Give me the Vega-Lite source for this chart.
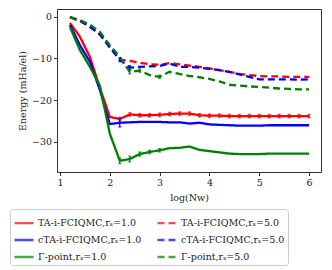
{
  "$schema": "https://vega.github.io/schema/vega-lite/v6.json",
  "autosize": "none",
  "width": 264,
  "height": 163,
  "padding": {"left": 57, "top": 9, "right": 11, "bottom": 98},
  "config": {
    "font": "DejaVu Serif",
    "view": {"stroke": "#333", "strokeWidth": 1},
    "axis": {"grid": false, "domain": false, "tickColor": "#333", "tickSize": 3.5, "labelFontSize": 9.5, "labelColor": "#222", "titleFontSize": 9.5, "titleFontWeight": "normal", "titleColor": "#222"}
  },
  "data": {"values": [
    {"x":1.2,"s":"TA1","y":-1.5,"e":0},{"x":1.4,"s":"TA1","y":-4.8,"e":0},{"x":1.6,"s":"TA1","y":-9.6,"e":0},{"x":1.8,"s":"TA1","y":-17,"e":0},{"x":2.0,"s":"TA1","y":-24,"e":0},{"x":2.2,"s":"TA1","y":-24.5,"e":0.4},{"x":2.4,"s":"TA1","y":-23.4,"e":0.4},{"x":2.6,"s":"TA1","y":-23.6,"e":0.4},{"x":2.8,"s":"TA1","y":-23.6,"e":0.4},{"x":3.0,"s":"TA1","y":-23.5,"e":0.4},{"x":3.2,"s":"TA1","y":-23.3,"e":0.4},{"x":3.4,"s":"TA1","y":-23.2,"e":0.4},{"x":3.6,"s":"TA1","y":-23.2,"e":0.4},{"x":3.8,"s":"TA1","y":-23.6,"e":0.4},{"x":4.0,"s":"TA1","y":-23.7,"e":0.4},{"x":4.2,"s":"TA1","y":-23.7,"e":0.4},{"x":4.4,"s":"TA1","y":-23.8,"e":0.4},{"x":4.6,"s":"TA1","y":-23.8,"e":0.4},{"x":4.8,"s":"TA1","y":-23.8,"e":0.4},{"x":5.0,"s":"TA1","y":-23.8,"e":0.4},{"x":5.2,"s":"TA1","y":-23.8,"e":0.4},{"x":5.4,"s":"TA1","y":-23.8,"e":0.4},{"x":5.6,"s":"TA1","y":-23.8,"e":0.4},{"x":5.8,"s":"TA1","y":-23.8,"e":0.4},{"x":6.0,"s":"TA1","y":-23.8,"e":0.4},
    {"x":1.2,"s":"TA5","y":-0.1,"e":0},{"x":1.4,"s":"TA5","y":-1,"e":0},{"x":1.6,"s":"TA5","y":-2.4,"e":0},{"x":1.8,"s":"TA5","y":-4.2,"e":0},{"x":2.0,"s":"TA5","y":-7.3,"e":0},{"x":2.2,"s":"TA5","y":-10.3,"e":0},{"x":2.4,"s":"TA5","y":-10.6,"e":0},{"x":2.6,"s":"TA5","y":-11,"e":0},{"x":2.8,"s":"TA5","y":-11.4,"e":0},{"x":3.0,"s":"TA5","y":-11.5,"e":0},{"x":3.2,"s":"TA5","y":-11.1,"e":0},{"x":3.4,"s":"TA5","y":-11.4,"e":0},{"x":3.6,"s":"TA5","y":-11.7,"e":0},{"x":3.8,"s":"TA5","y":-12,"e":0},{"x":4.0,"s":"TA5","y":-12.4,"e":0},{"x":4.2,"s":"TA5","y":-12.8,"e":0},{"x":4.4,"s":"TA5","y":-13.2,"e":0},{"x":4.6,"s":"TA5","y":-13.7,"e":0},{"x":4.8,"s":"TA5","y":-14,"e":0},{"x":5.0,"s":"TA5","y":-14.2,"e":0},{"x":5.2,"s":"TA5","y":-14.3,"e":0},{"x":5.4,"s":"TA5","y":-14.3,"e":0},{"x":5.6,"s":"TA5","y":-14.4,"e":0},{"x":5.8,"s":"TA5","y":-14.4,"e":0},{"x":6.0,"s":"TA5","y":-14.4,"e":0},
    {"x":1.2,"s":"cTA1","y":-2,"e":0},{"x":1.4,"s":"cTA1","y":-6.8,"e":0},{"x":1.6,"s":"cTA1","y":-10.8,"e":0},{"x":1.8,"s":"cTA1","y":-17.5,"e":0},{"x":2.0,"s":"cTA1","y":-25.7,"e":0},{"x":2.2,"s":"cTA1","y":-25.4,"e":1.0},{"x":2.4,"s":"cTA1","y":-25.3,"e":0},{"x":2.6,"s":"cTA1","y":-25.2,"e":0},{"x":2.8,"s":"cTA1","y":-25.2,"e":0},{"x":3.0,"s":"cTA1","y":-25.2,"e":0},{"x":3.2,"s":"cTA1","y":-25.3,"e":0},{"x":3.4,"s":"cTA1","y":-25.3,"e":0},{"x":3.6,"s":"cTA1","y":-25.6,"e":0},{"x":3.8,"s":"cTA1","y":-25.4,"e":0},{"x":4.0,"s":"cTA1","y":-25.8,"e":0},{"x":4.2,"s":"cTA1","y":-25.9,"e":0},{"x":4.4,"s":"cTA1","y":-26,"e":0},{"x":4.6,"s":"cTA1","y":-26.1,"e":0},{"x":4.8,"s":"cTA1","y":-26.1,"e":0},{"x":5.0,"s":"cTA1","y":-26.1,"e":0},{"x":5.2,"s":"cTA1","y":-26,"e":0},{"x":5.4,"s":"cTA1","y":-26,"e":0},{"x":5.6,"s":"cTA1","y":-26,"e":0},{"x":5.8,"s":"cTA1","y":-26,"e":0},{"x":6.0,"s":"cTA1","y":-26,"e":0},
    {"x":1.2,"s":"cTA5","y":-0.1,"e":0},{"x":1.4,"s":"cTA5","y":-1,"e":0},{"x":1.6,"s":"cTA5","y":-2.4,"e":0},{"x":1.8,"s":"cTA5","y":-4.2,"e":0},{"x":2.0,"s":"cTA5","y":-7.3,"e":0},{"x":2.2,"s":"cTA5","y":-10.3,"e":0.5},{"x":2.4,"s":"cTA5","y":-12.2,"e":0.5},{"x":2.6,"s":"cTA5","y":-12,"e":0},{"x":2.8,"s":"cTA5","y":-11.9,"e":0},{"x":3.0,"s":"cTA5","y":-11.8,"e":0},{"x":3.2,"s":"cTA5","y":-11.2,"e":0},{"x":3.4,"s":"cTA5","y":-12,"e":0},{"x":3.6,"s":"cTA5","y":-12,"e":0},{"x":3.8,"s":"cTA5","y":-12.2,"e":0},{"x":4.0,"s":"cTA5","y":-12.5,"e":0},{"x":4.2,"s":"cTA5","y":-12.8,"e":0},{"x":4.4,"s":"cTA5","y":-13.2,"e":0},{"x":4.6,"s":"cTA5","y":-13.8,"e":0},{"x":4.8,"s":"cTA5","y":-14.4,"e":0},{"x":5.0,"s":"cTA5","y":-15,"e":0},{"x":5.2,"s":"cTA5","y":-15,"e":0},{"x":5.4,"s":"cTA5","y":-15,"e":0},{"x":5.6,"s":"cTA5","y":-15,"e":0},{"x":5.8,"s":"cTA5","y":-15.1,"e":0},{"x":6.0,"s":"cTA5","y":-15,"e":0},
    {"x":1.2,"s":"G1","y":-2.5,"e":0},{"x":1.4,"s":"G1","y":-8,"e":0},{"x":1.6,"s":"G1","y":-12,"e":0},{"x":1.8,"s":"G1","y":-16.5,"e":0},{"x":2.0,"s":"G1","y":-28,"e":0},{"x":2.2,"s":"G1","y":-34.5,"e":0.7},{"x":2.4,"s":"G1","y":-34.1,"e":0.7},{"x":2.6,"s":"G1","y":-32.9,"e":0.5},{"x":2.8,"s":"G1","y":-32.4,"e":0.4},{"x":3.0,"s":"G1","y":-32,"e":0.4},{"x":3.2,"s":"G1","y":-31.5,"e":0},{"x":3.4,"s":"G1","y":-31.4,"e":0},{"x":3.6,"s":"G1","y":-31.1,"e":0},{"x":3.8,"s":"G1","y":-31.9,"e":0},{"x":4.0,"s":"G1","y":-32.2,"e":0},{"x":4.2,"s":"G1","y":-32.5,"e":0},{"x":4.4,"s":"G1","y":-32.8,"e":0},{"x":4.6,"s":"G1","y":-32.9,"e":0},{"x":4.8,"s":"G1","y":-32.9,"e":0},{"x":5.0,"s":"G1","y":-32.9,"e":0},{"x":5.2,"s":"G1","y":-32.8,"e":0},{"x":5.4,"s":"G1","y":-32.8,"e":0},{"x":5.6,"s":"G1","y":-32.8,"e":0},{"x":5.8,"s":"G1","y":-32.8,"e":0},{"x":6.0,"s":"G1","y":-32.8,"e":0},
    {"x":1.2,"s":"G5","y":-0.1,"e":0},{"x":1.4,"s":"G5","y":-0.8,"e":0},{"x":1.6,"s":"G5","y":-1.9,"e":0},{"x":1.8,"s":"G5","y":-3.6,"e":0},{"x":2.0,"s":"G5","y":-6.8,"e":0},{"x":2.2,"s":"G5","y":-9.6,"e":0},{"x":2.4,"s":"G5","y":-13.2,"e":0.5},{"x":2.6,"s":"G5","y":-12.9,"e":0.4},{"x":2.8,"s":"G5","y":-14,"e":0},{"x":3.0,"s":"G5","y":-14.4,"e":0.4},{"x":3.2,"s":"G5","y":-13.2,"e":0},{"x":3.4,"s":"G5","y":-13.7,"e":0},{"x":3.6,"s":"G5","y":-14.2,"e":0},{"x":3.8,"s":"G5","y":-14.5,"e":0},{"x":4.0,"s":"G5","y":-14.9,"e":0},{"x":4.2,"s":"G5","y":-15.5,"e":0},{"x":4.4,"s":"G5","y":-16.3,"e":0},{"x":4.6,"s":"G5","y":-16.5,"e":0},{"x":4.8,"s":"G5","y":-16.7,"e":0},{"x":5.0,"s":"G5","y":-16.8,"e":0},{"x":5.2,"s":"G5","y":-17,"e":0},{"x":5.4,"s":"G5","y":-17.2,"e":0},{"x":5.6,"s":"G5","y":-17.3,"e":0},{"x":5.8,"s":"G5","y":-17.4,"e":0},{"x":6.0,"s":"G5","y":-17.4,"e":0}
  ]},
  "encoding": {
    "x": {"field": "x", "type": "quantitative", "scale": {"domain": [0.94, 6.24], "nice": false, "zero": false}, "axis": {"values": [1,2,3,4,5,6], "title": "log(Nw)", "titlePadding": 5}},
    "y": {"field": "y", "type": "quantitative", "scale": {"domain": [-37.2, 1.85], "nice": false, "zero": false}, "axis": {"values": [0,-10,-20,-30], "title": "Energy (mHa/el)", "titlePadding": 4}},
    "color": {"field": "s", "type": "nominal",
      "scale": {"domain": ["TA1","cTA1","G1","TA5","cTA5","G5"], "range": ["#ff0000","#0000ff","#008000","#ff0000","#0000ff","#008000"]},
      "legend": {"orient": "none", "legendX": -47, "legendY": 200, "columns": 2, "title": null, "symbolType": "stroke", "symbolSize": 360, "symbolStrokeWidth": 2.3, "labelFontSize": 9.5, "labelColor": "#222", "labelOffset": 3, "rowPadding": 1, "columnPadding": 10, "strokeColor": "#ccc", "cornerRadius": 3, "padding": 3, "fillColor": "white",
        "labelExpr": "{'TA1':'TA-i-FCIQMC,rₛ=1.0','TA5':'TA-i-FCIQMC,rₛ=5.0','cTA1':'cTA-i-FCIQMC,rₛ=1.0','cTA5':'cTA-i-FCIQMC,rₛ=5.0','G1':'Γ-point,rₛ=1.0','G5':'Γ-point,rₛ=5.0'}[datum.value]"}}
  },
  "layer": [
    {
      "mark": {"type": "line", "strokeWidth": 2.3, "clip": true},
      "encoding": {
        "strokeDash": {"field": "s", "type": "nominal",
          "scale": {"domain": ["TA1","cTA1","G1","TA5","cTA5","G5"], "range": [[1,0],[1,0],[1,0],[7,4],[7,4],[7,4]]}}
      }
    },
    {
      "transform": [{"filter": "datum.e > 0"}],
      "mark": {"type": "errorbar", "ticks": {"size": 3}, "thickness": 1.3, "clip": true},
      "encoding": {
        "yError": {"field": "e"}
      }
    }
  ]
}
